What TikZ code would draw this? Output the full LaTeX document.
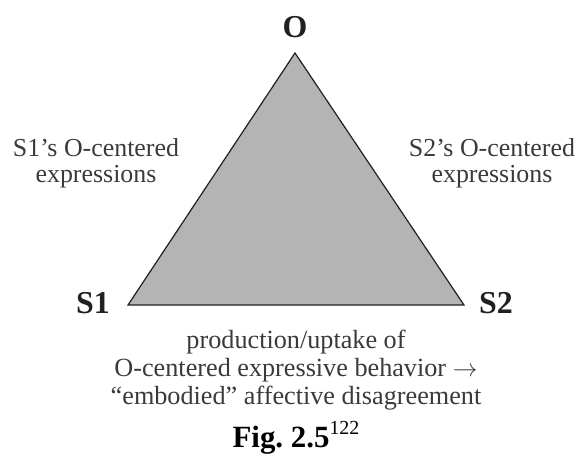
\documentclass[tikz,border=0pt]{standalone}
\usepackage{fontspec}
\setmainfont{Liberation Serif}
\definecolor{inkgray}{HTML}{3A3A3A}
\definecolor{labelink}{HTML}{202020}
\definecolor{trifill}{HTML}{B4B4B4}
\begin{document}
\begin{tikzpicture}[x=1bp,y=-1bp,
  corner/.style={font=\fontsize{32}{34}\selectfont\bfseries, text=labelink, inner sep=0pt, anchor=base},
  sidetext/.style={font=\fontsize{26}{26.5}\selectfont, text=inkgray, align=center, inner sep=0pt},
  bottomtext/.style={font=\fontsize{26.3}{28}\selectfont, text=inkgray, align=center, inner sep=0pt},
  captext/.style={font=\fontsize{31}{33}\selectfont\bfseries, text=black, inner sep=0pt, anchor=base}]
  \useasboundingbox (0,0) rectangle (577,455);
  % triangle vertices
  \coordinate (O) at (295,53);
  \coordinate (S1) at (128,305);
  \coordinate (S2) at (464,305);
  \filldraw[fill=trifill, draw=labelink, line width=1.2bp, line join=miter] (O) -- (S1) -- (S2) -- cycle;
  % vertex labels
  \node[corner] (lO) at (295,38) {O};
  \node[corner] (lS1) at (93,313) {S1};
  \node[corner] (lS2) at (496,313) {S2};
  % edge labels
  \node[sidetext] (left) at (96,163) {S1’s O-centered\\expressions};
  \node[sidetext] (right) at (492,163) {S2’s O-centered\\expressions};
  \node[bottomtext] (bottom) at (296,370)
    {production/uptake of\\O-centered expressive behavior $\rightarrow$\\“embodied” affective disagreement};
  % caption
  \node[captext] (cap) at (296,447)
    {Fig.\ 2.5\raisebox{0.42em}{\mdseries\fontsize{20}{20}\selectfont 122}};
\end{tikzpicture}
\end{document}
